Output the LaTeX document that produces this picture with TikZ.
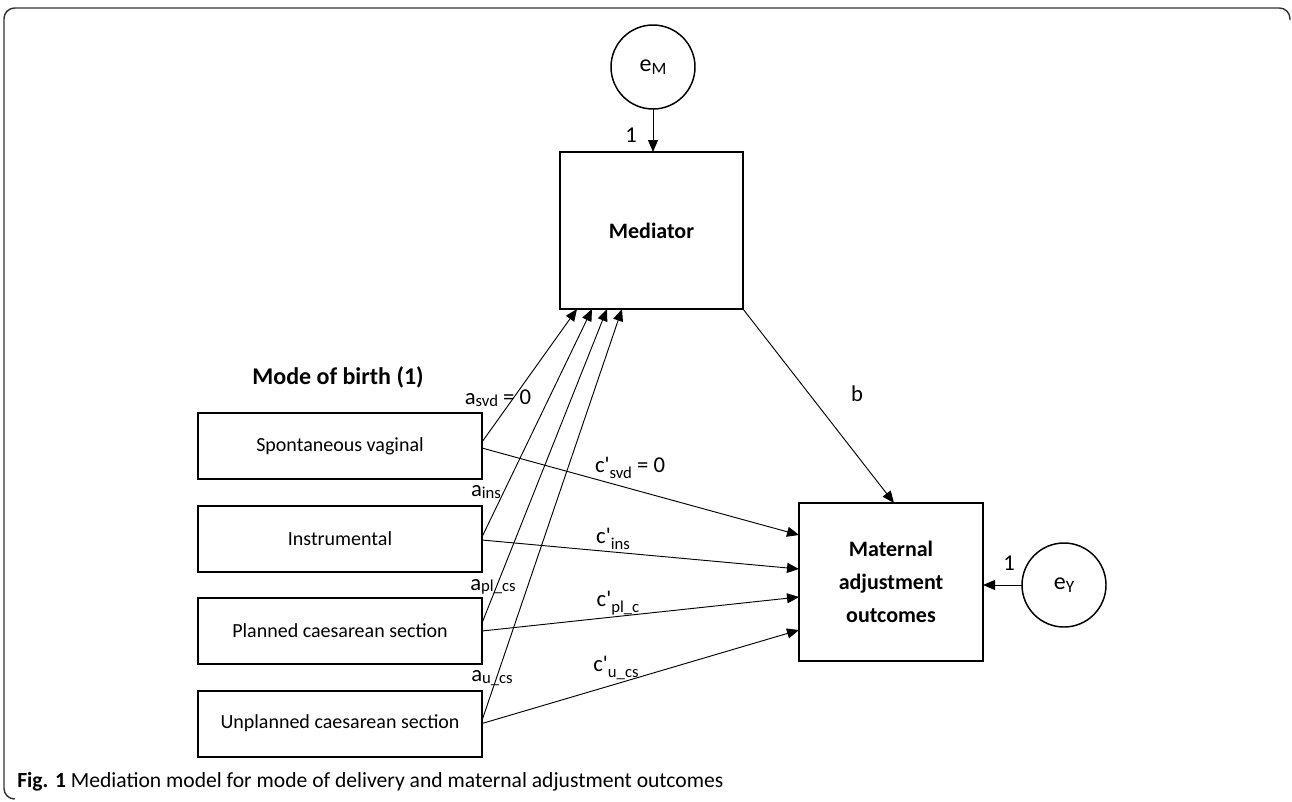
\documentclass[tikz,border=0pt]{standalone}
\usepackage{fontspec}
\setmainfont{Carlito}
\newfontfamily\qfont{Carlito}
\usetikzlibrary{arrows.meta,calc}
\newcommand\lsubA[1]{\raisebox{-0.15ex}{\fontsize{12.5}{14}\selectfont #1}}
\newcommand\lsubC[1]{\raisebox{-0.6ex}{\fontsize{12.5}{14}\selectfont #1}}
\newcommand\cpr{c{\qfont\char"27}}
\begin{document}
\begin{tikzpicture}[x=0.75pt,y=-0.75pt,
  inbox/.style={draw,line width=1.5pt,inner sep=0pt,outer sep=0pt,font=\fontsize{15}{18}\selectfont},
  bigbox/.style={draw,line width=1.5pt,inner sep=0pt,outer sep=0pt,font=\fontsize{16.5}{25}\selectfont\bfseries,align=center},
  errc/.style={draw,circle,line width=1.1pt,minimum size=63pt,inner sep=0pt,outer sep=0pt,font=\fontsize{18}{20}\selectfont},
  conn/.style={line width=0.7pt,-{Triangle[length=9pt,width=7.5pt]}},
  lab/.style={font=\fontsize{17}{20}\selectfont,inner sep=0pt}
]
\useasboundingbox (0,0) rectangle (1292,801);
% frame
\draw[line width=1.1pt,color=black!80,rounded corners=8pt] (1290,20) -- (1290,8) -- (4,8) -- (4,799) -- (14,799);

% nodes
\node[errc] (eM) at (653,67) {e\raisebox{-0.25ex}{\fontsize{13}{14}\selectfont M}};
\node[bigbox,minimum width=137.25pt,minimum height=117.75pt] (med) at (651.5,230.5) {\raisebox{-2pt}{Mediator}};
\node[bigbox,minimum width=138pt,minimum height=118.5pt] (mat) at (891,582) {Maternal\\adjustment\\outcomes};
\node[errc] (eY) at (1064,585) {e\raisebox{-0.25ex}{\fontsize{13}{14}\selectfont Y}};

\node[font=\fontsize{18}{20}\selectfont\bfseries] (mode) at (338,377) {Mode of birth (1)};
\node[inbox,minimum width=213pt,minimum height=49.5pt] (b1) at (340,446) {Spontaneous vaginal};
\node[inbox,minimum width=213pt,minimum height=49.5pt] (b2) at (340,539) {Instrumental};
\node[inbox,minimum width=213pt,minimum height=49.5pt] (b3) at (340,631) {Planned caesarean section};
\node[inbox,minimum width=213pt,minimum height=49.5pt] (b4) at (340,723.5) {Unplanned caesarean section};

% error paths
\draw[conn] (eM.south) -- (eM.south |- med.north);
\node[lab] (oneM) at (631,135) {1};
\draw[conn] (eY.west) -- (eY.west -| mat.east);
\node[lab] (oneY) at (1009,563) {1};

% a paths
\draw[conn] ($(b1.east)+(0,-4)$) -- ($(med.south west)+(17,0)$);
\draw[conn] ($(b2.east)+(0,-2)$) -- ($(med.south west)+(32,0)$);
\draw[conn] ($(b3.east)+(0,-8)$) -- ($(med.south west)+(47,0)$);
\draw[conn] ($(b4.east)+(0,-3)$) -- ($(med.south west)+(62,0)$);

% c' paths
\draw[conn] ($(b1.east)+(0,2)$) -- ($(mat.north west)+(0,32)$);
\draw[conn] ($(b2.east)+(0,1)$) -- ($(mat.north west)+(0,66)$);
\draw[conn] ($(b3.east)+(0,0)$) -- ($(mat.north west)+(0,94)$);
\draw[conn] ($(b4.east)+(0,0)$) -- ($(mat.north west)+(0,127)$);

% b path
\draw[conn] (med.south east) -- ($(mat.north west)+(95,0)$);
\node[lab] (blab) at (857,394) {b};

% labels
\node[lab] (la1) at (498,398) {a\lsubA{svd} = 0};
\node[lab] (la2) at (486,492) {a\lsubA{ins}};
\node[lab] (la3) at (493,587) {a\lsubA{pl\_cs}};
\node[lab] (la4) at (492,678) {a\lsubA{u\_cs}};
\node[lab] (lc1) at (630,468) {\cpr\lsubC{svd} = 0};
\node[lab] (lc2) at (613,539) {\cpr\lsubC{ins}};
\node[lab] (lc3) at (618,603) {\cpr\lsubC{pl\_c}};
\node[lab] (lc4) at (616,668) {\cpr\lsubC{u\_cs}};

% caption
\node[anchor=west,inner sep=0pt,font=\fontsize{16.2}{19}\selectfont] (cap) at (17,782) {\textbf{Fig. 1} Mediation model for mode of delivery and maternal adjustment outcomes};
\end{tikzpicture}
\end{document}
